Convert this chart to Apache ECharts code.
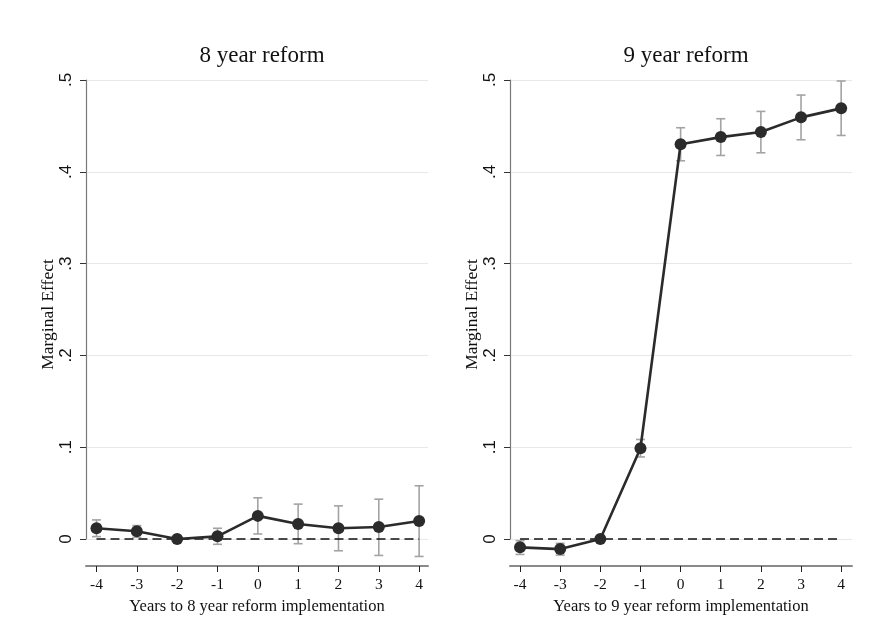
<!DOCTYPE html>
<html>
<head>
<meta charset="utf-8">
<script src="https://cdn.jsdelivr.net/npm/echarts@6/dist/echarts.min.js"></script>
<style>html,body{margin:0;padding:0;background:#fff}#c{width:873px;height:641px}</style>
</head>
<body>
<div id="c"></div>
<script>
const years = [-4, -3, -2, -1, 0, 1, 2, 3, 4];
const yTicks = [0, 0.1, 0.2, 0.3, 0.4, 0.5];
const panelTitles = ['8 year reform', '9 year reform'];
const xNames = ['Years to 8 year reform implementation', 'Years to 9 year reform implementation'];
const yName = 'Marginal Effect';

const est8 = [0.0117, 0.0084, 0.0000, 0.0029, 0.0252, 0.0164, 0.0117, 0.0131, 0.0197];
const lo8  = [0.0026, 0.0018, null, -0.0058, 0.0055, -0.0051, -0.0128, -0.0179, -0.0190];
const hi8  = [0.0208, 0.0146, null, 0.0117, 0.0449, 0.0380, 0.0361, 0.0434, 0.0580];

const est9 = [-0.0091, -0.0110, 0.0000, 0.0989, 0.4300, 0.4378, 0.4433, 0.4593, 0.4691];
const lo9  = [-0.0168, -0.0175, null, 0.0894, 0.4120, 0.4178, 0.4207, 0.4349, 0.4396];
const hi9  = [-0.0018, -0.0047, null, 0.1084, 0.4480, 0.4578, 0.4658, 0.4836, 0.4989];

const FONT = '"Liberation Serif", "DejaVu Serif", serif';
const SANS = '"Liberation Sans", Arial, sans-serif';
const panels = [
  {left: 86, xmin: -4.26, xmax: 4.22, est: est8, lo: lo8, hi: hi8},
  {left: 510, xmin: -4.25, xmax: 4.27, est: est9, lo: lo9, hi: hi9}
];
const W = 342, TOP = 80, HA = 486, HB = 459;
const YMIN = -0.0294, YMAX = 0.5;

const grid = [], xAxis = [], yAxis = [], series = [], title = [];
panels.forEach((p, i) => {
  const ga = grid.length;
  grid.push({left: p.left, top: TOP, width: W, height: HA});
  grid.push({left: p.left, top: TOP, width: W, height: HB});
  title.push({
    text: panelTitles[i], left: p.left + W / 2, top: 39, textAlign: 'center',
    textStyle: {fontFamily: FONT, fontSize: 23, fontWeight: 'normal', color: '#111'}
  });
  xAxis.push({
    gridIndex: ga, type: 'value', min: p.xmin, max: p.xmax,
    name: xNames[i], nameLocation: 'middle', nameGap: 24,
    nameTextStyle: {fontFamily: FONT, fontSize: 16.5, color: '#111'},
    axisLine: {show: true, onZero: false, lineStyle: {color: '#8a8a8a', width: 2}},
    axisTick: {show: true, customValues: years, length: 6, lineStyle: {color: '#222', width: 1}},
    axisLabel: {customValues: years, fontFamily: FONT, fontSize: 15.5, color: '#111', margin: 11,
      formatter: v => String(v)},
    splitLine: {show: false}
  });
  xAxis.push({gridIndex: ga + 1, type: 'value', min: p.xmin, max: p.xmax, show: false});
  yAxis.push({gridIndex: ga, type: 'value', min: YMIN, max: YMAX, show: false});
  yAxis.push({
    gridIndex: ga + 1, type: 'value', min: 0, max: 0.5, interval: 0.1,
    name: yName, nameLocation: 'middle', nameGap: 29,
    nameTextStyle: {fontFamily: FONT, fontSize: 17.5, color: '#111', padding: [0, 10, 0, 0]},
    axisLine: {show: true, onZero: false, lineStyle: {color: '#777', width: 1.2}},
    axisTick: {show: true, length: 6, lineStyle: {color: '#333', width: 1}},
    axisLabel: {rotate: 90, fontFamily: SANS, fontSize: 17, color: '#111', margin: 11,
      formatter: v => (Math.abs(v) < 1e-9 ? '0' : v.toFixed(1).replace(/^0/, ''))},
    splitLine: {show: true, lineStyle: {color: '#e8e8e8', width: 1}}
  });
  const xi = ga, yi = ga;
  const ebData = years.map((y, k) => [y, p.lo[k], p.hi[k]]).filter(d => d[1] !== null);
  series.push({
    type: 'custom', xAxisIndex: xi, yAxisIndex: yi, z: 2,
    data: ebData,
    renderItem: (params, api) => {
      const x = api.value(0);
      const a = api.coord([x, api.value(1)]);
      const b = api.coord([x, api.value(2)]);
      const cw = 4.5;
      const st = {stroke: '#a3a3a3', lineWidth: 1.6};
      return {type: 'group', children: [
        {type: 'line', shape: {x1: a[0], y1: a[1], x2: b[0], y2: b[1]}, style: st},
        {type: 'line', shape: {x1: a[0] - cw, y1: a[1], x2: a[0] + cw, y2: a[1]}, style: st},
        {type: 'line', shape: {x1: b[0] - cw, y1: b[1], x2: b[0] + cw, y2: b[1]}, style: st}
      ]};
    }
  });
  series.push({
    type: 'line', xAxisIndex: xi, yAxisIndex: yi, z: 3, silent: true,
    data: [[years[0], 0], [years[years.length - 1], 0]],
    symbol: 'none',
    lineStyle: {color: '#111', width: 1.3, type: [9, 5]}
  });
  series.push({
    type: 'line', xAxisIndex: xi, yAxisIndex: yi, z: 4,
    data: years.map((y, k) => [y, p.est[k]]),
    symbol: 'circle', symbolSize: 12,
    itemStyle: {color: '#2b2b2b'},
    lineStyle: {color: '#2b2b2b', width: 2.6}
  });
});

const chart = echarts.init(document.getElementById('c'), null, {renderer: 'canvas'});
chart.setOption({
  backgroundColor: '#fff', animation: false,
  title, grid, xAxis, yAxis, series
});
</script>
</body>
</html>
